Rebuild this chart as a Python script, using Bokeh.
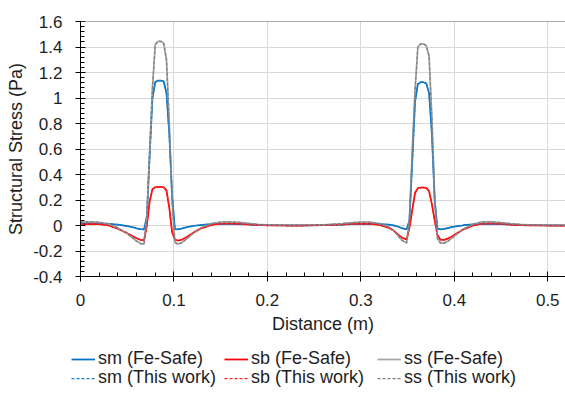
from bokeh.plotting import figure
from bokeh.models import FixedTicker, CustomJSTickFormatter, Legend, LegendItem, Span, Range1d
from bokeh.embed import file_html
from bokeh.resources import INLINE

# ---------------- data ----------------
distance = [0, 0.01, 0.02, 0.03, 0.04, 0.05, 0.055, 0.06, 0.064, 0.068,
            0.071, 0.074, 0.077, 0.080, 0.083, 0.086, 0.089, 0.092, 0.095, 0.098,
            0.101, 0.104, 0.108, 0.112, 0.117, 0.122, 0.13, 0.14, 0.15, 0.16,
            0.17, 0.18, 0.19, 0.2, 0.22, 0.24, 0.26, 0.28, 0.29, 0.30,
            0.31, 0.32, 0.33, 0.335, 0.34, 0.344, 0.349, 0.352, 0.355, 0.358,
            0.361, 0.364, 0.367, 0.370, 0.373, 0.376, 0.379, 0.382, 0.385, 0.389,
            0.393, 0.397, 0.402, 0.41, 0.42, 0.43, 0.44, 0.45, 0.46, 0.47,
            0.48, 0.5, 0.52]

sm_fesafe = [0.018, 0.017, 0.015, 0.012, 0.006, -0.004, -0.012, -0.022, -0.028, -0.031,
             0.07, 0.55, 1.00, 1.125, 1.137, 1.137, 1.13, 1.04, 0.72, 0.24,
             -0.028, -0.03, -0.024, -0.016, -0.008, -0.002, 0.005, 0.01, 0.013, 0.013,
             0.011, 0.008, 0.005, 0.003, 0.001, 0.001, 0.003, 0.007, 0.01, 0.012,
             0.013, 0.011, 0.006, 0.001, -0.01, -0.02, -0.03, 0.04, 0.5, 0.97,
             1.11, 1.124, 1.124, 1.115, 1.04, 0.72, 0.2, -0.025, -0.03, -0.027,
             -0.02, -0.013, -0.006, 0.002, 0.009, 0.013, 0.013, 0.011, 0.008, 0.005,
             0.003, 0.001, 0.0]

sb_fesafe = [0.008, 0.012, 0.01, 0.0, -0.025, -0.06, -0.08, -0.1, -0.112, -0.115,
             0.0, 0.19, 0.285, 0.3, 0.303, 0.303, 0.3, 0.275, 0.14, -0.05,
             -0.11, -0.118, -0.112, -0.098, -0.075, -0.05, -0.02, 0.004, 0.014, 0.016,
             0.013, 0.008, 0.004, 0.001, 0.0, 0.0, 0.002, 0.008, 0.012, 0.015,
             0.013, 0.004, -0.018, -0.04, -0.072, -0.095, -0.11, -0.02, 0.12, 0.255,
             0.293, 0.298, 0.298, 0.295, 0.27, 0.17, 0.04, -0.075, -0.11, -0.113,
             -0.103, -0.088, -0.065, -0.03, 0.0, 0.015, 0.016, 0.012, 0.007, 0.003,
             0.001, 0.0, 0.0]

ss_fesafe = [0.026, 0.029, 0.025, 0.012, -0.019, -0.064, -0.092, -0.122, -0.14, -0.146,
             0.07, 0.58, 1.08, 1.42, 1.445, 1.445, 1.43, 1.3, 0.8, 0.2,
             -0.13, -0.145, -0.136, -0.114, -0.083, -0.052, -0.015, 0.014, 0.027, 0.029,
             0.024, 0.016, 0.009, 0.004, 0.001, 0.001, 0.005, 0.015, 0.022, 0.027,
             0.026, 0.015, -0.012, -0.039, -0.082, -0.115, -0.135, 0.04, 0.58, 1.06,
             1.40, 1.425, 1.425, 1.41, 1.33, 0.85, 0.22, -0.1, -0.135, -0.138,
             -0.123, -0.101, -0.071, -0.028, 0.009, 0.028, 0.029, 0.023, 0.015, 0.008,
             0.004, 0.001, 0.0]

sm_thiswork = [0.018, 0.017, 0.015, 0.012, 0.006, -0.004, -0.012, -0.022, -0.028, -0.031,
               0.07, 0.55, 1.00, 1.125, 1.137, 1.137, 1.13, 1.04, 0.72, 0.24,
               -0.028, -0.03, -0.024, -0.016, -0.008, -0.002, 0.005, 0.01, 0.013, 0.013,
               0.011, 0.008, 0.005, 0.003, 0.001, 0.001, 0.003, 0.007, 0.01, 0.012,
               0.013, 0.011, 0.006, 0.001, -0.01, -0.02, -0.03, 0.04, 0.5, 0.97,
               1.11, 1.124, 1.124, 1.115, 1.04, 0.72, 0.2, -0.025, -0.03, -0.027,
               -0.02, -0.013, -0.006, 0.002, 0.009, 0.013, 0.013, 0.011, 0.008, 0.005,
               0.003, 0.001, 0.0]

sb_thiswork = [0.008, 0.012, 0.01, 0.0, -0.025, -0.06, -0.08, -0.1, -0.113, -0.117,
               0.0, 0.19, 0.285, 0.3, 0.303, 0.303, 0.3, 0.275, 0.14, -0.05,
               -0.112, -0.12, -0.113, -0.098, -0.075, -0.05, -0.02, 0.004, 0.014, 0.016,
               0.013, 0.008, 0.004, 0.001, 0.0, 0.0, 0.002, 0.008, 0.012, 0.015,
               0.013, 0.004, -0.018, -0.04, -0.072, -0.096, -0.112, -0.02, 0.12, 0.255,
               0.293, 0.298, 0.298, 0.295, 0.27, 0.17, 0.04, -0.075, -0.112, -0.115,
               -0.103, -0.088, -0.065, -0.03, 0.0, 0.015, 0.016, 0.012, 0.007, 0.003,
               0.001, 0.0, 0.0]

ss_thiswork = [0.026, 0.029, 0.025, 0.012, -0.019, -0.064, -0.092, -0.123, -0.142, -0.148,
               0.07, 0.58, 1.08, 1.42, 1.445, 1.445, 1.43, 1.3, 0.8, 0.2,
               -0.132, -0.148, -0.137, -0.114, -0.083, -0.052, -0.015, 0.014, 0.027, 0.029,
               0.024, 0.016, 0.009, 0.004, 0.001, 0.001, 0.005, 0.015, 0.022, 0.027,
               0.026, 0.015, -0.012, -0.039, -0.082, -0.117, -0.138, 0.04, 0.58, 1.06,
               1.40, 1.425, 1.425, 1.41, 1.33, 0.85, 0.22, -0.1, -0.138, -0.141,
               -0.124, -0.101, -0.071, -0.028, 0.009, 0.028, 0.029, 0.023, 0.015, 0.008,
               0.004, 0.001, 0.0]

x_ticks = [0, 0.1, 0.2, 0.3, 0.4, 0.5]
y_ticks = [-0.4, -0.2, 0, 0.2, 0.4, 0.6, 0.8, 1.0, 1.2, 1.4, 1.6]
series_labels = ["sm (Fe-Safe)", "sb (Fe-Safe)", "ss (Fe-Safe)",
                 "sm (This work)", "sb (This work)", "ss (This work)"]

# ---------------- styles ----------------
FONT = "Liberation Sans"
TXT = "#1e1e1e"
styles = [
    dict(line_color="#0070C0", line_width=1.75),
    dict(line_color="#FF0000", line_width=1.75),
    dict(line_color="#A5A5A5", line_width=1.75),
    dict(line_color="#1F7FD0", line_width=1.25, line_dash="3 2"),
    dict(line_color="#FF2020", line_width=1.25, line_dash="3 2"),
    dict(line_color="#7F7F7F", line_width=1.25, line_dash="3 2"),
]
series = [sm_fesafe, sb_fesafe, ss_fesafe, sm_thiswork, sb_thiswork, ss_thiswork]

# ---------------- main figure ----------------
p = figure(width=565, height=340, output_backend="svg", toolbar_location=None,
           x_range=(0, 0.519), y_range=(-0.4, 1.6), title=None,
           min_border_left=80, min_border_right=0, min_border_top=21, min_border_bottom=64)
p.outline_line_color = None
p.background_fill_color = "white"

x_minor = [round(i * 0.02, 2) for i in range(0, 27)]
y_minor = [round(-0.4 + i * 0.04, 2) for i in range(0, 51)]
xt = FixedTicker(ticks=x_ticks, minor_ticks=x_minor)
yt = FixedTicker(ticks=y_ticks, minor_ticks=y_minor)
fmt = CustomJSTickFormatter(code="return String(Math.round(tick*100)/100);")

p.xaxis.ticker = xt
p.xgrid.ticker = xt
p.yaxis.ticker = yt
p.ygrid.ticker = yt
p.xaxis.formatter = fmt
p.yaxis.formatter = fmt

for ax in (p.xaxis, p.yaxis):
    ax.axis_line_color = "black"
    ax.axis_line_width = 1
    ax.major_tick_line_color = "black"
    ax.minor_tick_line_color = "black"
    ax.major_tick_in = 5
    ax.major_tick_out = 5
    ax.minor_tick_in = 4
    ax.minor_tick_out = 0
    ax.major_label_text_font = FONT
    ax.major_label_text_font_size = "17px"
    ax.major_label_text_color = TXT
    ax.axis_label_text_font = FONT
    ax.axis_label_text_font_size = "18px"
    ax.axis_label_text_font_style = "normal"
    ax.axis_label_text_color = TXT

p.xaxis.axis_label = "Distance (m)"
p.yaxis.axis_label = "Structural Stress (Pa)"
p.xaxis.major_label_standoff = 12
p.xaxis.axis_label_standoff = 5
p.yaxis.major_label_standoff = 13
p.yaxis.axis_label_standoff = 4

for g in (p.xgrid, p.ygrid):
    g.grid_line_color = "#D9D9D9"
    g.grid_line_width = 1

p.add_layout(Span(location=1.6, dimension="width", line_color="#595959", line_width=1))

for ys, st in zip(series, styles):
    p.line(distance, ys, **st)

# ---------------- legend strip (separate root, no frame alignment) ----------------
q = figure(width=565, height=54, output_backend="svg", toolbar_location=None,
           x_axis_type=None, y_axis_type=None, title=None,
           x_range=Range1d(0, 1), y_range=Range1d(0, 1),
           min_border_left=0, min_border_right=0, min_border_top=0, min_border_bottom=0)
q.outline_line_color = None
q.background_fill_color = "white"
q.border_fill_color = "white"

# legend keys: same styles, drawn outside the strip's visible range
dummies = [q.line([-10, -9], [-10, -9], **st) for st in styles]

def make_legend(idx, loc):
    items = [LegendItem(label=series_labels[i], renderers=[dummies[i]]) for i in idx]
    return Legend(items=items, orientation="horizontal", location=loc,
                  glyph_width=24, glyph_height=16, label_height=16, label_width=123,
                  label_standoff=3, spacing=3, padding=0, margin=0,
                  border_line_alpha=0, background_fill_alpha=0,
                  label_text_font=FONT, label_text_font_size="18px",
                  label_text_color=TXT)

q.add_layout(make_legend([0, 1, 2], (71, 25)))
q.add_layout(make_legend([3, 4, 5], (71, 6)))

open("out.html", "w").write(file_html([p, q], INLINE))
